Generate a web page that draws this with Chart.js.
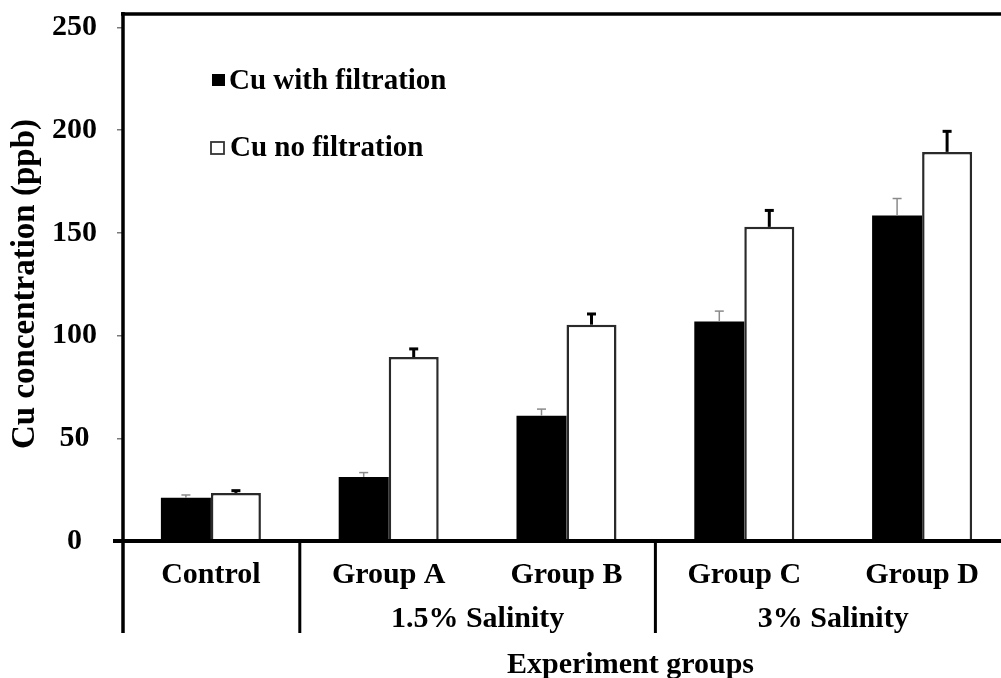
<!DOCTYPE html>
<html><head><meta charset="utf-8">
<script src="https://cdn.jsdelivr.net/npm/chart.js@4.4.1/dist/chart.umd.min.js"></script>
<style>
html,body{margin:0;padding:0;overflow:hidden;background:#fff;width:1001px;height:678px}
canvas{display:block}
</style></head>
<body>
<canvas id="c" width="1030" height="678" style="width:1030px;height:678px"></canvas>
<script>
// ---- data ----
const categories = ['Control', 'Group A', 'Group B', 'Group C', 'Group D'];
const salinityLabels = ['1.5% Salinity', '3% Salinity'];
const salinitySpans = [[1, 2], [3, 4]];
const seriesNames = ['Cu with filtration', 'Cu no filtration'];
const cuWithFiltration = [21, 31.2, 61, 106.9, 158.4];
const cuWithFiltrationErr = [1.4, 2.1, 3.2, 5, 8.3];
const cuNoFiltration = [23.4, 89.5, 105.3, 152.9, 189.4];
const cuNoFiltrationErr = [1.1, 4, 5.2, 8, 10];
const yTicks = [0, 50, 100, 150, 200, 250];
const yTitle = 'Cu concentration (ppb)';
const xTitle = 'Experiment groups';

const FONT = '"Liberation Serif","Times New Roman",serif';
const errArrays = [cuWithFiltrationErr, cuNoFiltrationErr];
const errStyles = [{color: '#8a8a8a', w: 1.5, capW: 1.5}, {color: '#000', w: 3, capW: 3}];

const framePlugin = {
  id: 'frame',
  afterDatasetsDraw(chart) {
    const ctx = chart.ctx, y = chart.scales.y;
    ctx.save();
    chart.data.datasets.forEach((ds, di) => {
      const meta = chart.getDatasetMeta(di);
      const st = errStyles[di];
      meta.data.forEach((bar, i) => {
        const yTop = y.getPixelForValue(ds.data[i] + errArrays[di][i]);
        ctx.strokeStyle = st.color;
        ctx.lineWidth = st.w;
        ctx.beginPath(); ctx.moveTo(bar.x, bar.y); ctx.lineTo(bar.x, yTop); ctx.stroke();
        ctx.lineWidth = st.capW;
        ctx.beginPath(); ctx.moveTo(bar.x - 4.5, yTop); ctx.lineTo(bar.x + 4.5, yTop); ctx.stroke();
      });
    });
    ctx.restore();
  },
  afterDraw(chart) {
    const ctx = chart.ctx, x = chart.scales.x, a = chart.chartArea;
    const bottomLine = a.bottom + 92;
    ctx.save();
    ctx.strokeStyle = '#000';
    ctx.lineCap = 'butt';
    // frame lines
    ctx.lineWidth = 3.5;
    ctx.beginPath(); ctx.moveTo(a.left + 1, a.top - 1); ctx.lineTo(a.left + 1, bottomLine); ctx.stroke();
    ctx.beginPath(); ctx.moveTo(a.left - 1, a.top + 1); ctx.lineTo(chart.width, a.top + 1); ctx.stroke();
    ctx.lineWidth = 4;
    ctx.beginPath(); ctx.moveTo(a.left - 9, a.bottom); ctx.lineTo(chart.width, a.bottom); ctx.stroke();
    // dividers between category groups
    ctx.lineWidth = 3;
    [0.5, 2.5, 4.5].forEach(v => {
      const px = x.getPixelForValue(v);
      ctx.beginPath(); ctx.moveTo(px, a.bottom); ctx.lineTo(px, bottomLine); ctx.stroke();
    });
    // category labels
    ctx.fillStyle = '#000';
    ctx.textAlign = 'center';
    ctx.textBaseline = 'alphabetic';
    ctx.font = 'bold 30px ' + FONT;
    categories.forEach((c, i) => ctx.fillText(c, x.getPixelForValue(i), a.bottom + 42));
    salinityLabels.forEach((s, i) => {
      const m = (salinitySpans[i][0] + salinitySpans[i][1]) / 2;
      ctx.fillText(s, x.getPixelForValue(m), a.bottom + 86);
    });
    // x title
    ctx.fillText(xTitle, x.getPixelForValue(2.36), a.bottom + 132);
    // y title
    ctx.save();
    ctx.translate(25, 284);
    ctx.rotate(-Math.PI / 2);
    ctx.textBaseline = 'middle';
    ctx.font = 'bold 33px ' + FONT;
    ctx.fillText(yTitle, 0, 0);
    ctx.restore();
    // legend
    ctx.textAlign = 'left';
    ctx.font = 'bold 29px ' + FONT;
    ctx.fillStyle = '#000';
    ctx.fillRect(212, 74, 13, 12);
    ctx.fillText(seriesNames[0], 229, 89);
    ctx.fillStyle = '#fff';
    ctx.fillRect(211, 142, 13, 12);
    ctx.strokeStyle = '#333';
    ctx.lineWidth = 1.8;
    ctx.strokeRect(211, 142, 13, 12);
    ctx.fillStyle = '#000';
    ctx.fillText(seriesNames[1], 230, 156);
    ctx.restore();
  }
};

new Chart(document.getElementById('c'), {
  type: 'bar',
  data: {
    labels: categories,
    datasets: [
      {label: seriesNames[0], data: cuWithFiltration, backgroundColor: '#000', borderWidth: 0,
       categoryPercentage: 0.5625, barPercentage: 1},
      {label: seriesNames[1], data: cuNoFiltration, backgroundColor: '#fff', borderColor: '#2a2a2a',
       borderWidth: 2.5, categoryPercentage: 0.5625, barPercentage: 1}
    ]
  },
  options: {
    responsive: false,
    animation: false,
    devicePixelRatio: 1,
    layout: {padding: {top: 13, right: 19, left: 0, bottom: 0}},
    plugins: {legend: {display: false}, tooltip: {enabled: false}},
    scales: {
      x: {
        afterFit: s => { s.height = 137; s.paddingLeft = 0; s.paddingRight = 0; },
        ticks: {display: false},
        grid: {display: false},
        border: {display: false}
      },
      y: {
        min: 0, max: 257,
        afterBuildTicks: s => { s.ticks = yTicks.map(v => ({value: v})); },
        afterFit: s => { s.width = 122; s.paddingTop = 0; s.paddingBottom = 0; },
        ticks: {font: {family: FONT, size: 30, weight: 'bold'}, color: '#000', padding: 20, crossAlign: 'center'},
        grid: {drawOnChartArea: false, drawTicks: true, tickLength: 5, color: '#7a7a7a', lineWidth: 1.5},
        border: {display: false}
      }
    }
  },
  plugins: [framePlugin]
});
</script>
</body></html>
